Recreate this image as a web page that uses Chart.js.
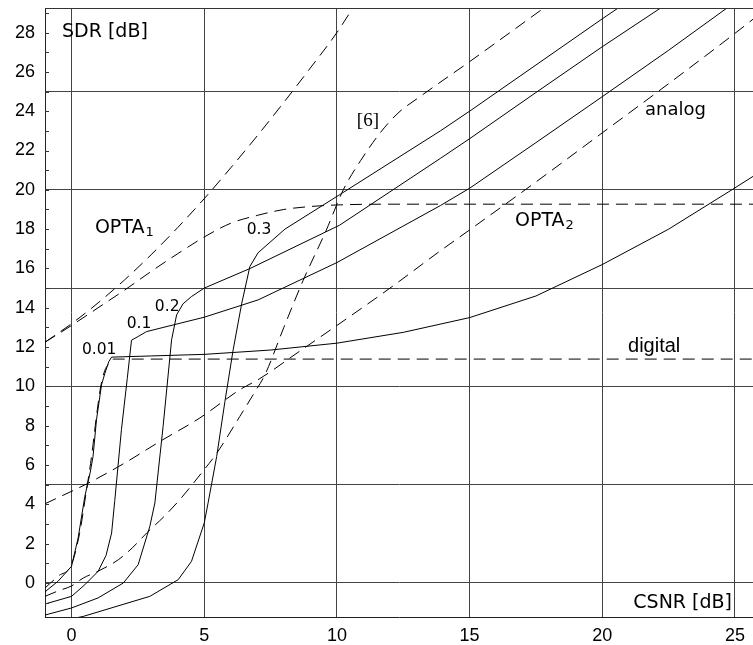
<!DOCTYPE html>
<html>
<head>
<meta charset="utf-8">
<script src="https://cdn.jsdelivr.net/npm/chart.js@4.4.1/dist/chart.umd.min.js"></script>
<style>
  html, body { margin: 0; padding: 0; background: #fff; }
  canvas { display: block; }
</style>
</head>
<body>
<canvas id="chart" width="753" height="645"></canvas>
<script>
// CSNR [dB] (x) / SDR [dB] (y)
const xTicks = [0, 5, 10, 15, 20, 25];
const yTicks = [-1, 0, 1, 2, 3, 4, 5, 6, 7, 8, 9, 10, 11, 12, 13, 14, 15, 16, 17, 18, 19, 20, 21, 22, 23, 24, 25, 26, 27, 28, 29];

const csnr001 = [-1, -0.5, 0, 0.25, 0.5, 0.7, 0.81, 0.94, 1.13, 1.26, 1.4, 1.51, 3, 5, 7.5, 10, 12.5, 15, 17.5, 20, 22.5, 25, 25.7];
const sdr001  = [-0.45, 0.1, 0.85, 2.3, 4.4, 5.6, 6.44, 8.3, 10.08, 10.68, 11.25, 11.49, 11.55, 11.63, 11.85, 12.2, 12.75, 13.5, 14.6, 16.2, 18.0, 20.1, 20.7];

const csnr01 = [-1, 0, 0.5, 1.0, 1.3, 1.51, 1.63, 1.88, 2.1, 2.26, 2.51, 2.83, 5, 7.03, 10, 13.9, 15, 17.5, 20, 22.5, 24.7];
const sdr01  = [-1.07, -0.68, -0.09, 0.59, 1.4, 2.54, 4.2, 7.8, 10.4, 12.35, 12.54, 12.79, 13.52, 14.4, 16.3, 19.2, 20.08, 22.4, 24.74, 27.1, 29.25];

const csnr02 = [-1, 0, 1.0, 1.95, 2.51, 2.95, 3.14, 3.45, 3.77, 3.96, 4.2, 4.52, 5, 6.73, 10.1, 13.9, 15, 17.5, 20, 22.2];
const sdr02  = [-1.63, -1.27, -0.76, 0, 0.93, 2.88, 4.07, 7.96, 12.37, 13.64, 14.2, 14.57, 15.0, 16.0, 18.2, 21.6, 22.6, 24.95, 27.28, 29.25];

const csnr03 = [-1, 0.44, 2.95, 4.02, 4.52, 5.0, 5.15, 5.47, 5.78, 6.09, 6.41, 6.72, 7.03, 8.04, 10.1, 13.9, 15, 20, 20.6];
const sdr03  = [-2.1, -1.7, -0.68, 0.17, 1.1, 3.05, 4.1, 6.44, 9.23, 11.86, 14.2, 16.1, 16.8, 18.0, 19.75, 23.0, 24.0, 28.7, 29.25];

const csnrDigital = [-1, -0.5, 0, 0.3, 0.55, 0.75, 0.95, 1.1, 1.25, 1.38, 1.57, 25.7];
const sdrDigital  = [-0.25, 0.35, 0.95, 2.5, 4.6, 6.4, 8.6, 10.0, 10.8, 11.1, 11.39, 11.39];

const csnrRef6 = [-1, -0.5, 0, 0.44, 1.0, 1.76, 2.3, 2.83, 3.5, 4.08, 4.9, 5.47, 6.34, 6.9, 7.29, 8.0, 8.73, 9.6, 10.24, 10.9, 11.62, 12.3, 13.13, 15, 17.8];
const sdrRef6  = [-0.68, -0.4, -0.15, 0.25, 0.6, 1.18, 1.8, 2.54, 3.4, 4.24, 5.6, 6.6, 8.47, 9.7, 10.6, 13.0, 15.4, 17.95, 20.0, 21.5, 22.88, 23.9, 24.74, 26.52, 29.25];

const csnrAnalog = [-1, 0.63, 2, 3.33, 4.84, 6.34, 7.1, 8.5, 10, 12, 13.9, 15, 17.5, 20, 22.5, 25, 25.7];
const sdrAnalog  = [4.03, 5.08, 6.1, 7.2, 8.4, 9.83, 10.4, 11.7, 13.1, 15.0, 16.9, 17.96, 20.4, 22.9, 25.4, 27.96, 28.7];

const csnrOpta1 = [-1, 0, 1, 2, 3, 4, 5, 6, 7, 8, 9, 10, 10.6];
const sdrOpta1  = [12.25, 13.19, 14.25, 15.42, 16.7, 18.08, 19.55, 21.12, 22.75, 24.45, 26.2, 28.0, 29.25];

const csnrOpta2 = [-1, 0, 1, 2, 3, 4, 5, 6, 7, 8, 9, 10, 12, 25.7];
const sdrOpta2  = [12.25, 13.1, 14.0, 14.9, 15.85, 16.75, 17.6, 18.3, 18.7, 19.0, 19.15, 19.23, 19.27, 19.27];

const toPoints = (xs, ys) => xs.map((x, i) => ({x: x, y: ys[i]}));

const solid = (xs, ys) => ({
    data: toPoints(xs, ys),
    showLine: true,
    borderColor: '#000',
    borderWidth: 1,
    pointRadius: 0,
    tension: 0
});
const dashed = (xs, ys) => ({
    data: toPoints(xs, ys),
    showLine: true,
    borderColor: '#000',
    borderWidth: 1,
    borderDash: [12, 7],
    pointRadius: 0,
    cubicInterpolationMode: 'monotone'
});

// text placed in data units
const notes = [
    {text: 'SDR [dB]',  x: -0.36, y: 27.79, font: '19px "DejaVu Sans"', align: 'left'},
    {text: 'CSNR [dB]', x: 24.89, y: -1.27, font: '19px "DejaVu Sans"', align: 'right'},
    {text: 'OPTA',      x: 0.88,  y: 17.79, font: '19px "DejaVu Sans"', align: 'left', sub: '1'},
    {text: 'OPTA',      x: 16.71, y: 18.16, font: '19px "DejaVu Sans"', align: 'left', sub: '2'},
    {text: 'analog',    x: 21.61, y: 23.81, font: '18px "DejaVu Sans"', align: 'left'},
    {text: 'digital',   x: 20.97, y: 11.74, font: '20px "Liberation Sans"', align: 'left'},
    {text: '[6]',       x: 10.75, y: 23.27, font: '19px "Liberation Serif"', align: 'left'},
    {text: '0.01',      x: 0.39,  y: 11.66, font: '15.5px "DejaVu Sans"', align: 'left'},
    {text: '0.1',       x: 2.08,  y: 12.99, font: '15.5px "DejaVu Sans"', align: 'left'},
    {text: '0.2',       x: 3.14,  y: 13.84, font: '15.5px "DejaVu Sans"', align: 'left'},
    {text: '0.3',       x: 6.6,   y: 17.76, font: '15.5px "DejaVu Sans"', align: 'left'}
];

const decorations = {
    id: 'decorations',
    afterDatasetsDraw(chart) {
        const ctx = chart.ctx;
        const area = chart.chartArea;
        const xs = chart.scales.x;
        const ys = chart.scales.y;
        ctx.save();
        // inward minor ticks on the SDR axis
        ctx.strokeStyle = '#333';
        ctx.lineWidth = 1;
        ctx.beginPath();
        yTicks.forEach((v) => {
            const py = Math.round(ys.getPixelForValue(v)) + 0.5;
            ctx.moveTo(area.left, py);
            ctx.lineTo(area.left + 4, py);
        });
        // top frame line
        ctx.moveTo(area.left, area.top + 0.5);
        ctx.lineTo(area.right, area.top + 0.5);
        ctx.stroke();

        ctx.fillStyle = '#000';
        ctx.textBaseline = 'alphabetic';
        notes.forEach((n) => {
            const px = xs.getPixelForValue(n.x);
            const py = ys.getPixelForValue(n.y);
            ctx.font = n.font;
            ctx.textAlign = n.align;
            ctx.fillText(n.text, px, py);
            if (n.sub) {
                const w = ctx.measureText(n.text).width;
                ctx.font = '13px "DejaVu Sans"';
                ctx.textAlign = 'left';
                ctx.fillText(n.sub, px + w + 1, py + 3);
            }
        });
        ctx.restore();
    }
};

new Chart(document.getElementById('chart'), {
    type: 'scatter',
    data: {
        datasets: [
            solid(csnr001, sdr001),
            solid(csnr01, sdr01),
            solid(csnr02, sdr02),
            solid(csnr03, sdr03),
            dashed(csnrDigital, sdrDigital),
            dashed(csnrRef6, sdrRef6),
            dashed(csnrAnalog, sdrAnalog),
            dashed(csnrOpta1, sdrOpta1),
            dashed(csnrOpta2, sdrOpta2)
        ]
    },
    options: {
        responsive: false,
        animation: false,
        layout: {padding: {top: 8, right: 0, left: 0, bottom: 0}},
        plugins: {
            legend: {display: false},
            tooltip: {enabled: false}
        },
        scales: {
            x: {
                type: 'linear',
                min: -1,
                max: 25.68,
                afterBuildTicks: (scale) => { scale.ticks = xTicks.map((v) => ({value: v})); },
                afterFit: (scale) => {
                    scale.height = 28;
                    scale.paddingLeft = 0;
                    scale.paddingRight = 0;
                },
                grid: {color: '#444', lineWidth: 1, drawTicks: false},
                border: {display: true, color: '#222', width: 1},
                ticks: {
                    color: '#000',
                    padding: 8,
                    autoSkip: false,
                    maxRotation: 0,
                    font: {family: '"Liberation Sans"', size: 18}
                }
            },
            y: {
                type: 'linear',
                min: -1.73,
                max: 29.25,
                afterBuildTicks: (scale) => { scale.ticks = yTicks.map((v) => ({value: v})); },
                afterFit: (scale) => {
                    scale.width = 45;
                    scale.paddingTop = 0;
                    scale.paddingBottom = 0;
                },
                grid: {
                    color: (c) => (c.tick && c.tick.value % 5 === 0) ? '#444' : 'rgba(0,0,0,0)',
                    lineWidth: 1,
                    drawTicks: false
                },
                border: {display: true, color: '#222', width: 1},
                ticks: {
                    color: '#000',
                    padding: 10,
                    autoSkip: false,
                    font: {family: '"Liberation Sans"', size: 18},
                    callback: (v) => (v >= 0 && v % 2 === 0) ? String(v) : ''
                }
            }
        }
    },
    plugins: [decorations]
});
</script>
</body>
</html>
